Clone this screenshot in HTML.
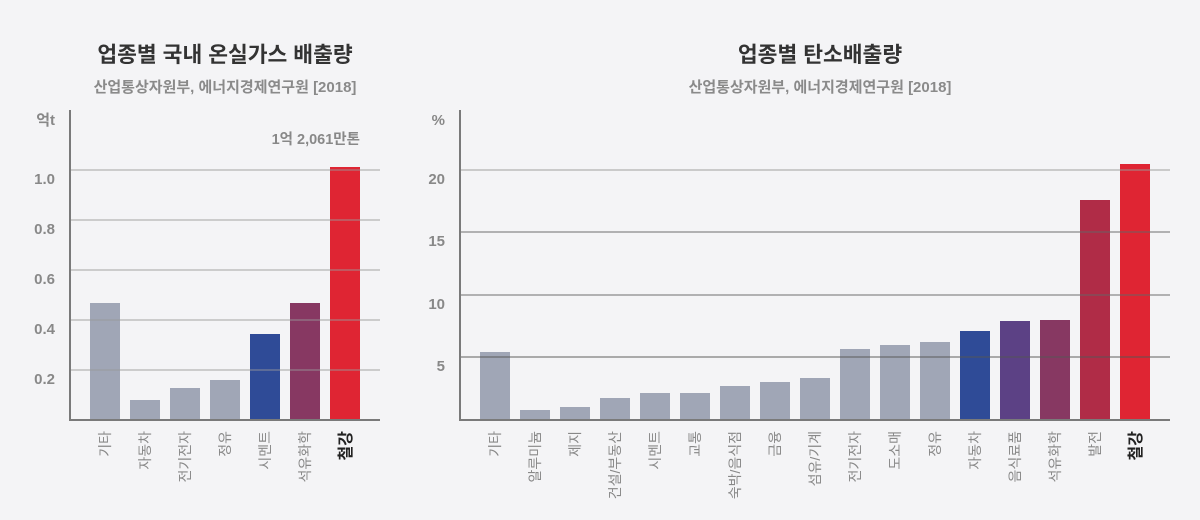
<!DOCTYPE html>
<html><head><meta charset="utf-8"><style>
body{margin:0;background:#f4f4f6;}
svg{display:block;font-family:"Liberation Sans","Noto Sans CJK KR",sans-serif;}
</style></head><body>
<svg width="1200" height="520" viewBox="0 0 1200 520">
<rect width="1200" height="520" fill="#f4f4f6"/>
<g text-anchor="middle">
<text x="225" y="62" font-size="21.5" font-weight="bold" fill="#333">업종별 국내 온실가스 배출량</text>
<text x="225" y="92" font-size="15" font-weight="bold" fill="#8a8a8a">산업통상자원부, 에너지경제연구원 [2018]</text>
<text x="820" y="62" font-size="21.5" font-weight="bold" fill="#333">업종별 탄소배출량</text>
<text x="820" y="92" font-size="15" font-weight="bold" fill="#8a8a8a">산업통상자원부, 에너지경제연구원 [2018]</text>
</g>
<!-- left chart -->
<g fill="#a0a6b6">
<rect x="90" y="303" width="30" height="117"/>
<rect x="130" y="400" width="30" height="20"/>
<rect x="170" y="388" width="30" height="32"/>
<rect x="210" y="380" width="30" height="40"/>
<rect x="250" y="334" width="30" height="86" fill="#2f4b97"/>
<rect x="290" y="303" width="30" height="117" fill="#873862"/>
<rect x="330" y="167" width="30" height="253" fill="#df2533"/>
</g>
<g stroke="#999" stroke-opacity="0.7" stroke-width="1.3">
<line x1="70" y1="170" x2="380" y2="170"/><line x1="70" y1="220" x2="380" y2="220"/>
<line x1="70" y1="270" x2="380" y2="270"/><line x1="70" y1="320" x2="380" y2="320"/>
<line x1="70" y1="370" x2="380" y2="370"/>
</g>
<g stroke="#7a7a7a" stroke-width="2"><line x1="70" y1="110" x2="70" y2="420"/><line x1="69" y1="420" x2="380" y2="420"/></g>
<g font-size="15" fill="#888" font-weight="bold" text-anchor="end">
<text x="55" y="125">억t</text>
<text x="55" y="184">1.0</text><text x="55" y="234">0.8</text><text x="55" y="284">0.6</text>
<text x="55" y="334">0.4</text><text x="55" y="384">0.2</text>
<text x="360" y="144" font-size="14.5">1억 2,061만톤</text>
</g>
<g font-size="14" fill="#888" text-anchor="end">
<text transform="translate(110,431) rotate(-90)">기타</text>
<text transform="translate(150,431) rotate(-90)">자동차</text>
<text transform="translate(190,431) rotate(-90)">전기전자</text>
<text transform="translate(230,431) rotate(-90)">정유</text>
<text transform="translate(270,431) rotate(-90)">시멘트</text>
<text transform="translate(310,431) rotate(-90)">석유화학</text>
<text transform="translate(351,431) rotate(-90)" fill="#222" font-weight="bold" font-size="16">철강</text>
</g>
<!-- right chart -->
<g fill="#a0a6b6">
<rect x="480" y="352" width="30" height="68"/>
<rect x="520" y="410" width="30" height="10"/>
<rect x="560" y="407" width="30" height="13"/>
<rect x="600" y="398" width="30" height="22"/>
<rect x="640" y="393" width="30" height="27"/>
<rect x="680" y="393" width="30" height="27"/>
<rect x="720" y="386" width="30" height="34"/>
<rect x="760" y="382" width="30" height="38"/>
<rect x="800" y="378" width="30" height="42"/>
<rect x="840" y="349" width="30" height="71"/>
<rect x="880" y="345" width="30" height="75"/>
<rect x="920" y="342" width="30" height="78"/>
<rect x="960" y="331" width="30" height="89" fill="#2f4b97"/>
<rect x="1000" y="321" width="30" height="99" fill="#5c4185"/>
<rect x="1040" y="320" width="30" height="100" fill="#873862"/>
<rect x="1080" y="200" width="30" height="220" fill="#b02c47"/>
<rect x="1120" y="164" width="30" height="256" fill="#df2533"/>
</g>
<g stroke-width="1.3" stroke-opacity="0.75">
<line x1="460" y1="170" x2="1170" y2="170" stroke="#999"/>
<line x1="460" y1="232" x2="1170" y2="232" stroke="#666"/>
<line x1="460" y1="295" x2="1170" y2="295" stroke="#666"/>
<line x1="460" y1="357" x2="1170" y2="357" stroke="#555"/>
</g>
<g stroke="#7a7a7a" stroke-width="2"><line x1="460" y1="110" x2="460" y2="420"/><line x1="459" y1="420" x2="1170" y2="420"/></g>
<g font-size="15" fill="#888" font-weight="bold" text-anchor="end">
<text x="445" y="125">%</text>
<text x="445" y="184">20</text><text x="445" y="246">15</text><text x="445" y="309">10</text><text x="445" y="371">5</text>
</g>
<g font-size="14" fill="#888" text-anchor="end">
<text transform="translate(500,431) rotate(-90)">기타</text>
<text transform="translate(540,431) rotate(-90)">알루미늄</text>
<text transform="translate(580,431) rotate(-90)">제지</text>
<text transform="translate(620,431) rotate(-90)">건설/부동산</text>
<text transform="translate(660,431) rotate(-90)">시멘트</text>
<text transform="translate(700,431) rotate(-90)">교통</text>
<text transform="translate(740,431) rotate(-90)">숙박/음식점</text>
<text transform="translate(780,431) rotate(-90)">금융</text>
<text transform="translate(820,431) rotate(-90)">섬유/기계</text>
<text transform="translate(860,431) rotate(-90)">전기전자</text>
<text transform="translate(900,431) rotate(-90)">도소매</text>
<text transform="translate(940,431) rotate(-90)">정유</text>
<text transform="translate(980,431) rotate(-90)">자동차</text>
<text transform="translate(1020,431) rotate(-90)">음식료품</text>
<text transform="translate(1060,431) rotate(-90)">석유화학</text>
<text transform="translate(1100,431) rotate(-90)">발전</text>
<text transform="translate(1141,431) rotate(-90)" fill="#222" font-weight="bold" font-size="16">철강</text>
</g>
</svg>
</body></html>
